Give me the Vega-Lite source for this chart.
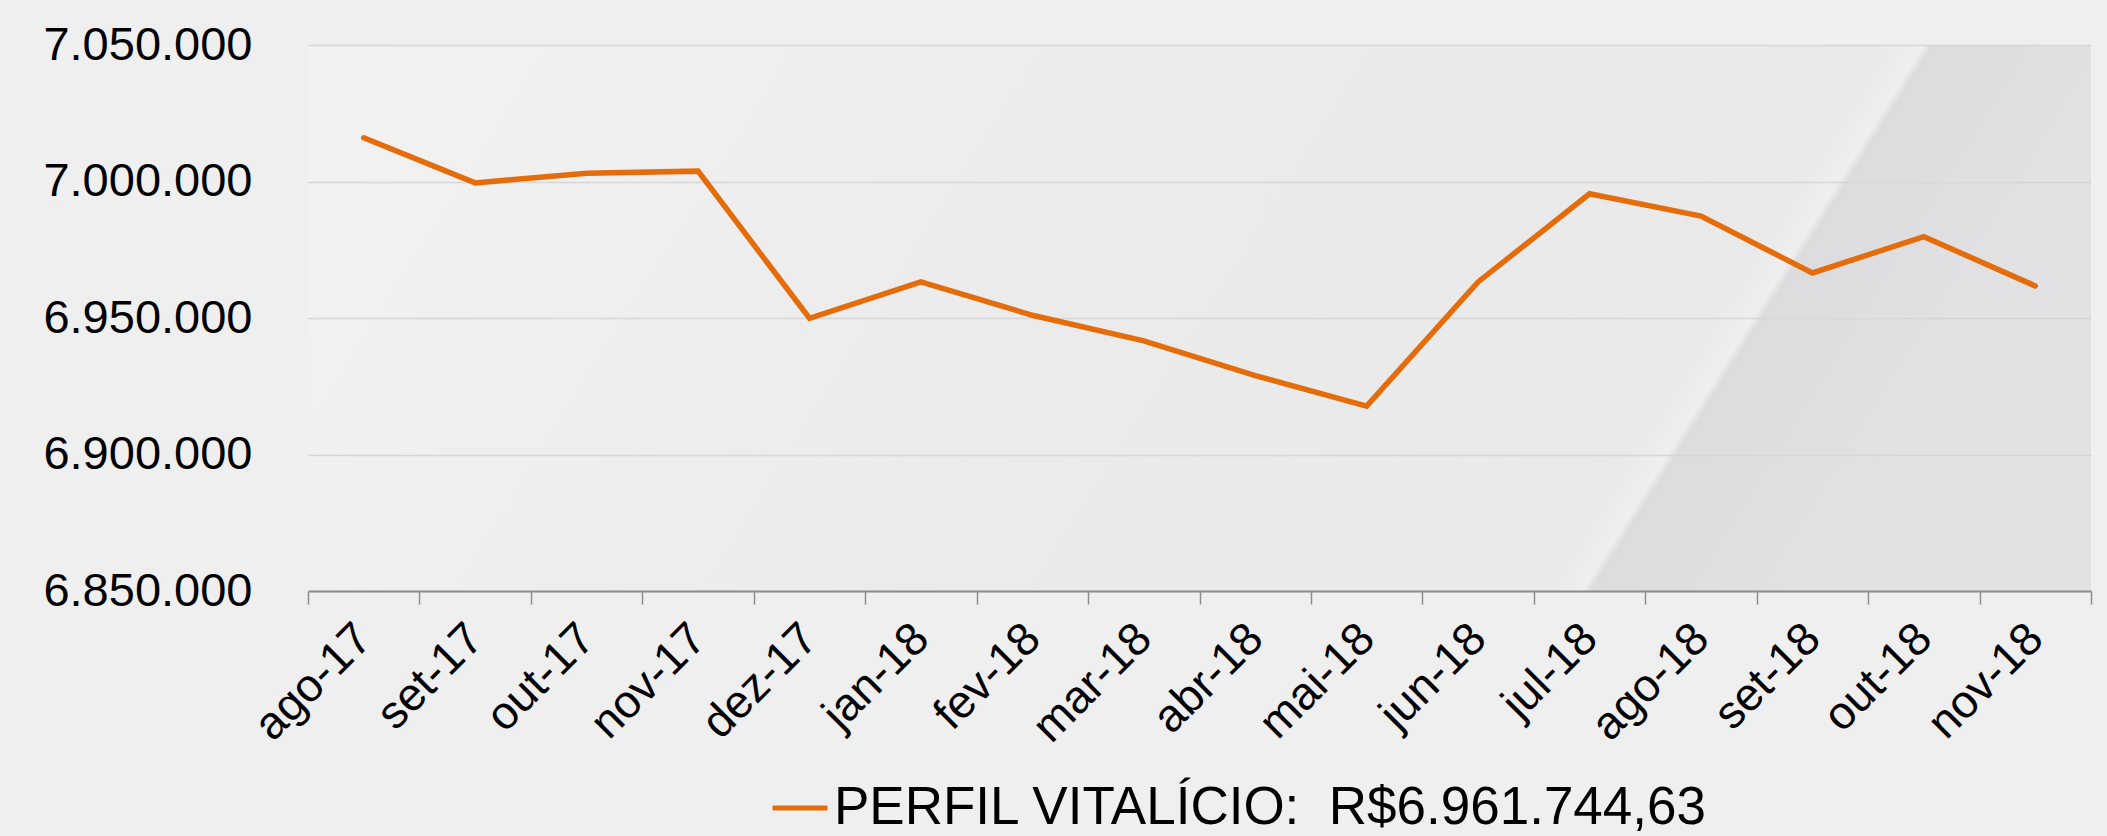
{
  "$schema": "https://vega.github.io/schema/vega-lite/v6.json",
  "autosize": "none",
  "width": 1783,
  "height": 546,
  "padding": {"left": 308, "top": 45, "right": 16, "bottom": 245},
  "background": "#efeff0",
  "config": {
    "locale": {"number": {"decimal": ",", "thousands": ".", "grouping": [3], "currency": ["R$", ""]}},
    "font": "Liberation Sans",
    "view": {"stroke": null, "fill": {"gradient": "linear", "x1": 0, "y1": 0, "x2": 1, "y2": 0.1915, "stops": [
      {"offset": 0, "color": "#f2f2f3"},
      {"offset": 0.5, "color": "#ebebec"},
      {"offset": 0.85, "color": "#e9e9ea"},
      {"offset": 0.874, "color": "#efeff0"},
      {"offset": 0.879, "color": "#dcdcde"},
      {"offset": 1, "color": "#e2e2e4"}
    ]}}
  },
  "data": {"values": [
    {"mes": "ago-17", "valor": 7016000, "serie": "PERFIL VITALÍCIO:\u00a0 R$6.961.744,63"},
    {"mes": "set-17", "valor": 6999500, "serie": "PERFIL VITALÍCIO:\u00a0 R$6.961.744,63"},
    {"mes": "out-17", "valor": 7003000, "serie": "PERFIL VITALÍCIO:\u00a0 R$6.961.744,63"},
    {"mes": "nov-17", "valor": 7003800, "serie": "PERFIL VITALÍCIO:\u00a0 R$6.961.744,63"},
    {"mes": "dez-17", "valor": 6949900, "serie": "PERFIL VITALÍCIO:\u00a0 R$6.961.744,63"},
    {"mes": "jan-18", "valor": 6963200, "serie": "PERFIL VITALÍCIO:\u00a0 R$6.961.744,63"},
    {"mes": "fev-18", "valor": 6951000, "serie": "PERFIL VITALÍCIO:\u00a0 R$6.961.744,63"},
    {"mes": "mar-18", "valor": 6941600, "serie": "PERFIL VITALÍCIO:\u00a0 R$6.961.744,63"},
    {"mes": "abr-18", "valor": 6928900, "serie": "PERFIL VITALÍCIO:\u00a0 R$6.961.744,63"},
    {"mes": "mai-18", "valor": 6917700, "serie": "PERFIL VITALÍCIO:\u00a0 R$6.961.744,63"},
    {"mes": "jun-18", "valor": 6963200, "serie": "PERFIL VITALÍCIO:\u00a0 R$6.961.744,63"},
    {"mes": "jul-18", "valor": 6995500, "serie": "PERFIL VITALÍCIO:\u00a0 R$6.961.744,63"},
    {"mes": "ago-18", "valor": 6987300, "serie": "PERFIL VITALÍCIO:\u00a0 R$6.961.744,63"},
    {"mes": "set-18", "valor": 6966500, "serie": "PERFIL VITALÍCIO:\u00a0 R$6.961.744,63"},
    {"mes": "out-18", "valor": 6979800, "serie": "PERFIL VITALÍCIO:\u00a0 R$6.961.744,63"},
    {"mes": "nov-18", "valor": 6961745, "serie": "PERFIL VITALÍCIO:\u00a0 R$6.961.744,63"}
  ]},
  "mark": {"type": "line", "strokeWidth": 5.5, "strokeJoin": "miter", "strokeCap": "round"},
  "encoding": {
    "x": {
      "field": "mes", "type": "ordinal", "sort": null,
      "scale": {"paddingInner": 0, "paddingOuter": 0},
      "axis": {
        "title": null, "labelAngle": -45, "labelAlign": "right", "labelBaseline": "middle",
        "labelFontSize": 46, "labelColor": "#000000",
        "labelPadding": 27, "tickBand": "extent", "tickSize": 13, "tickColor": "#8c8c8c", "tickWidth": 1.5,
        "domainColor": "#8c8c8c", "domainWidth": 2, "grid": false
      }
    },
    "y": {
      "field": "valor", "type": "quantitative",
      "scale": {"domain": [6850000, 7050000], "zero": false},
      "axis": {
        "title": null, "values": [6850000, 6900000, 6950000, 7000000, 7050000], "format": ",d",
        "labelFontSize": 47, "labelColor": "#000000", "labelPadding": 56, "labelLimit": 500, "ticks": false, "domain": false,
        "gridColor": "#d6d6d8", "gridWidth": 1.5
      }
    },
    "color": {
      "field": "serie", "type": "nominal",
      "scale": {"range": ["#e46c0a"]},
      "legend": {
        "title": null, "orient": "none", "legendX": 462, "legendY": 733,
        "symbolType": "stroke", "symbolSize": 3025, "symbolStrokeWidth": 5,
        "labelFontSize": 53, "labelColor": "#000000", "labelLimit": 3000, "labelOffset": 4
      }
    }
  }
}
